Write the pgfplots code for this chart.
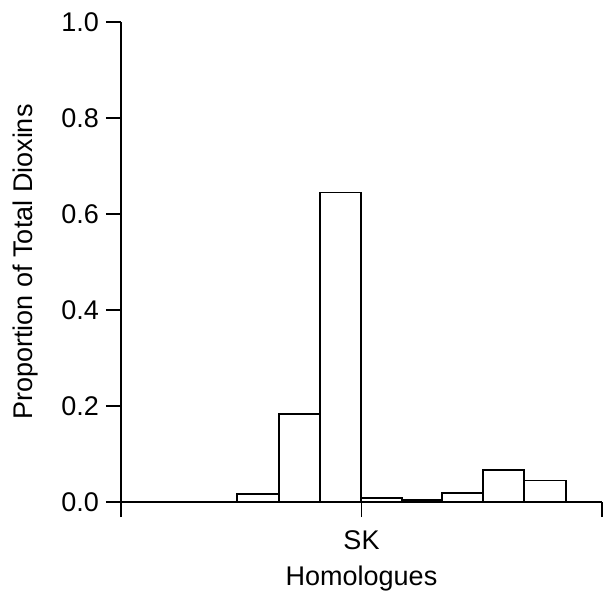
\documentclass[border=0pt]{standalone}
\usepackage{fontspec}
\setmainfont{Liberation Sans}
\usepackage{pgfplots}
\pgfplotsset{compat=1.18}

\begin{document}
\begin{tikzpicture}
\begin{axis}[
    scale only axis,
    width=240.5pt,
    height=240pt,
    xmin=0, xmax=1,
    ymin=0, ymax=1,
    enlargelimits=false,
    axis x line*=bottom,
    axis y line*=left,
    axis line style={line width=0.9pt},
    tick style={line width=0.9pt, black},
    tick align=outside,
    major tick length=7.5pt,
    xtick={0,0.5,1},
    xticklabels={,SK,},
    xticklabel style={yshift=-3.5pt},
    ytick={0,0.2,0.4,0.6,0.8,1.0},
    yticklabel style={/pgf/number format/.cd, fixed, fixed zerofill, precision=1, assume math mode=true},
    tick label style={font=\fontsize{13.5}{16}\selectfont},
    label style={font=\fontsize{13.5}{16}\selectfont},
    xlabel={Homologues},
    ylabel={Proportion of Total Dioxins},
    xlabel style={at={(axis description cs:0.5,-0.16)}, anchor=center},
    ylabel style={at={(axis description cs:-0.198,0.5)}, anchor=center, rotate=0},
    clip=false,
]
\addplot[ybar interval, fill=white, draw=black, line width=0.9pt] coordinates {
    (0.241,0.016)
    (0.328,0.184)
    (0.414,0.645)
    (0.499,0.008)
    (0.584,0.004)
    (0.667,0.019)
    (0.753,0.067)
    (0.838,0.045)
    (0.925,0)
};
\end{axis}
\pgfresetboundingbox
\path ([shift={(-60.5pt,-49pt)}]current axis.south west) rectangle ([shift={(241.5pt,251pt)}]current axis.south west);
\end{tikzpicture}
\end{document}
